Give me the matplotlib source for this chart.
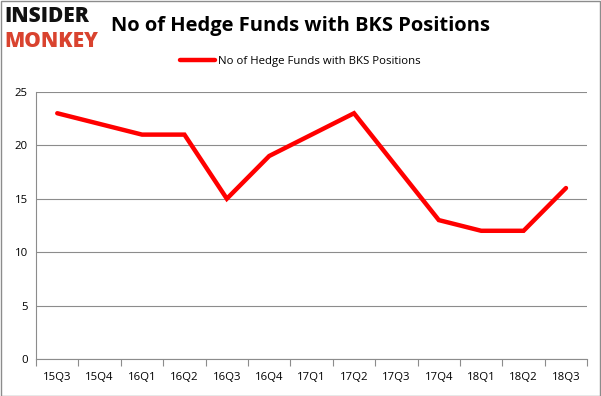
import matplotlib
matplotlib.use("Agg")
import matplotlib.pyplot as plt
from matplotlib.patches import Rectangle

quarters = ["15Q3", "15Q4", "16Q1", "16Q2", "16Q3", "16Q4", "17Q1", "17Q2",
            "17Q3", "17Q4", "18Q1", "18Q2", "18Q3"]
funds = [23, 22, 21, 21, 15, 19, 21, 23, 18, 13, 12, 12, 16]
yticks = [0, 5, 10, 15, 20, 25]
series_name = "No of Hedge Funds with BKS Positions"
title = "No of Hedge Funds with BKS Positions"

plt.rcParams['font.family'] = ['Open Sans', 'DejaVu Sans']

fig = plt.figure(figsize=(6.01, 3.96), dpi=100)
ax = fig.add_axes([0.06, 0.0934, 0.917, 0.6746])

x = list(range(len(quarters)))
ax.plot(x, funds, color="#ff0000", lw=3.2, solid_capstyle="round",
        solid_joinstyle="miter", label=series_name)

ax.set_xlim(-0.5, len(quarters) - 0.5)
ax.set_ylim(0, 25)
ax.set_yticks(yticks)
ax.set_xticks(x)
ax.set_xticklabels(quarters, fontsize=8.2)
ax.tick_params(axis='y', labelsize=8.2, length=0, pad=6)
ax.tick_params(axis='x', length=0, pad=9)
ax.set_xticks([i - 0.5 for i in range(len(quarters) + 1)], minor=True)
ax.tick_params(axis='x', which='minor', length=5, color="#8c8c8c", width=0.8)

ax.grid(axis='y', color="#8c8c8c", lw=0.8)
ax.set_axisbelow(True)
for s in ["top", "right"]:
    ax.spines[s].set_visible(False)
ax.spines["left"].set_color("#8c8c8c")
ax.spines["bottom"].set_color("#8c8c8c")
ax.spines["left"].set_linewidth(0.8)
ax.spines["bottom"].set_linewidth(0.8)

fig.text(0.5, 0.935, title, ha="center", va="center", fontsize=14.5,
         fontweight="bold", color="#000000")
leg = fig.legend(loc="center", bbox_to_anchor=(0.5, 0.845), frameon=False,
                 fontsize=8.2, handlelength=3.0, handletextpad=0.3)

# logo
fig.text(0.008, 0.958, "INSIDER", fontsize=15, fontweight="heavy",
         color="#111111", va="center", ha="left")
fig.text(0.008, 0.895, "MONKEY", fontsize=15, fontweight="heavy",
         color="#d9432f", va="center", ha="left")

fig.patches.append(Rectangle((0.001, 0.001), 0.997, 0.997, transform=fig.transFigure,
                             fill=False, edgecolor="#8c8c8c", lw=1))

fig.savefig("out.png", dpi=100)
